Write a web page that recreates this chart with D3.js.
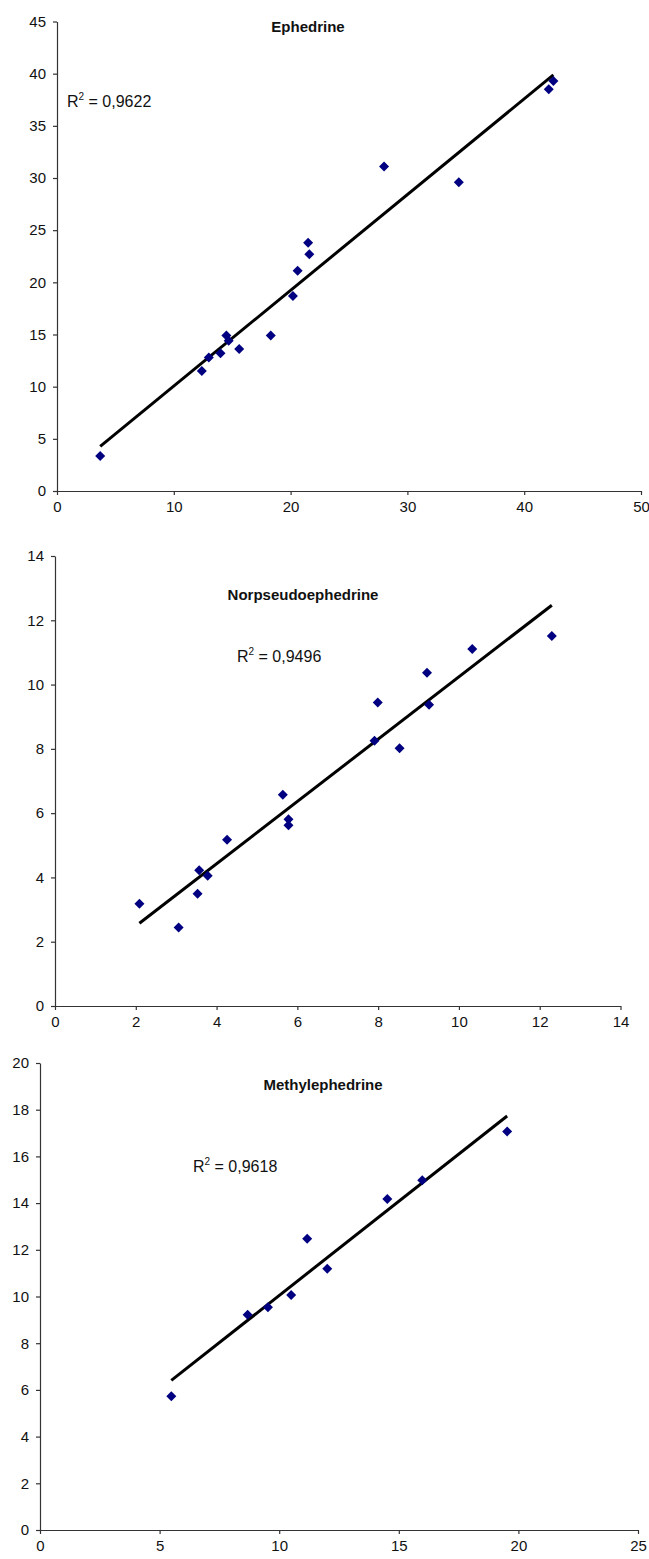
<!DOCTYPE html>
<meta charset="utf-8">
<style>
    body { margin: 0; background: #fff; }
    text { font-family: "Liberation Sans", Arial, sans-serif; fill: #111; }
    .axis path, .axis line { stroke: #333; stroke-width: 1.2px; }
    .axis text { font-size: 15px; }
    .title { font-size: 15px; font-weight: bold; }
    .r2 { font-size: 16px; }
    .trend { stroke: #000; stroke-width: 3px; fill: none; }
    .pt { fill: #000080; }
</style>
<body>
<script src="https://d3js.org/d3.v7.min.js"></script>
<script>
    var width = 649,
        height = 1559;

    // Ephedrine
    var ephedrineX = [3.7, 12.4, 13.0, 14.0, 14.5, 14.7, 15.6, 18.3, 20.2, 20.6, 21.5, 21.6, 28.0, 34.4, 42.1, 42.5];
    var ephedrineY = [3.35, 11.5, 12.8, 13.2, 14.9, 14.4, 13.6, 14.9, 18.7, 21.1, 23.8, 22.7, 31.1, 29.6, 38.5, 39.3];

    // Norpseudoephedrine
    var norX = [2.09, 3.06, 3.53, 3.57, 3.78, 4.26, 5.64, 5.78, 5.78, 7.91, 7.99, 8.53, 9.21, 9.26, 10.33, 12.30];
    var norY = [3.18, 2.44, 3.49, 4.22, 4.05, 5.17, 6.57, 5.81, 5.62, 8.25, 9.44, 8.02, 10.37, 9.37, 11.11, 11.51];

    // Methylephedrine
    var methX = [5.49, 8.68, 9.53, 10.50, 11.17, 12.01, 14.52, 15.98, 19.53];
    var methY = [5.73, 9.22, 9.54, 10.06, 12.47, 11.19, 14.18, 14.98, 17.07];

    var titles = ["Ephedrine", "Norpseudoephedrine", "Methylephedrine"];
    var r2Values = ["0,9622", "0,9496", "0,9618"];

    var xTicks1 = [0, 10, 20, 30, 40, 50], yTicks1 = [0, 5, 10, 15, 20, 25, 30, 35, 40, 45];
    var xTicks2 = [0, 2, 4, 6, 8, 10, 12, 14], yTicks2 = [0, 2, 4, 6, 8, 10, 12, 14];
    var xTicks3 = [0, 5, 10, 15, 20, 25], yTicks3 = [0, 2, 4, 6, 8, 10, 12, 14, 16, 18, 20];

    // layout of each panel (pixels)
    var panels = [
        { xs: ephedrineX, ys: ephedrineY, xMax: 50, yMax: 45, xt: xTicks1, yt: yTicks1,
          left: 57, right: 641, top: 21.5, bottom: 491,
          titleX: 308, titleY: 32, r2X: 67, r2Y: 107 },
        { xs: norX, ys: norY, xMax: 14, yMax: 14, xt: xTicks2, yt: yTicks2,
          left: 55, right: 620.5, top: 556, bottom: 1006,
          titleX: 303, titleY: 600, r2X: 237, r2Y: 662 },
        { xs: methX, ys: methY, xMax: 25, yMax: 20, xt: xTicks3, yt: yTicks3,
          left: 40, right: 638, top: 1063, bottom: 1530,
          titleX: 323, titleY: 1090, r2X: 193, r2Y: 1172 }
    ];

    var svg = d3.select("body").append("svg")
        .attr("width", width)
        .attr("height", height);

    var diamond = d3.symbol().type(d3.symbolSquare).size(50);

    panels.forEach(function (p, i) {
        var x = d3.scaleLinear().domain([0, p.xMax]).range([p.left, p.right]);
        var y = d3.scaleLinear().domain([0, p.yMax]).range([p.bottom, p.top]);
        var g = svg.append("g");

        g.append("g")
            .attr("class", "axis")
            .attr("transform", "translate(0," + p.bottom + ")")
            .call(d3.axisBottom(x).tickValues(p.xt).tickSize(4).tickSizeOuter(0).tickPadding(6));

        g.append("g")
            .attr("class", "axis")
            .attr("transform", "translate(" + p.left + ",0)")
            .call(d3.axisLeft(y).tickValues(p.yt).tickSize(4).tickSizeOuter(0).tickPadding(7));

        // least squares trend line
        var mx = d3.mean(p.xs), my = d3.mean(p.ys);
        var sxy = d3.sum(p.xs, function (v, k) { return (v - mx) * (p.ys[k] - my); });
        var sxx = d3.sum(p.xs, function (v) { return (v - mx) * (v - mx); });
        var slope = sxy / sxx, icpt = my - slope * mx;
        var ext = d3.extent(p.xs);

        g.append("line")
            .attr("class", "trend")
            .attr("x1", x(ext[0])).attr("y1", y(icpt + slope * ext[0]))
            .attr("x2", x(ext[1])).attr("y2", y(icpt + slope * ext[1]));

        g.selectAll(".pt")
            .data(p.xs.map(function (v, k) { return [v, p.ys[k]]; }))
            .enter().append("path")
            .attr("class", "pt")
            .attr("d", diamond)
            .attr("transform", function (d) {
                return "translate(" + x(d[0]) + "," + y(d[1]) + ") rotate(45)";
            });

        g.append("text")
            .attr("class", "title")
            .attr("x", p.titleX).attr("y", p.titleY)
            .attr("text-anchor", "middle")
            .text(titles[i]);

        var r2 = g.append("text")
            .attr("class", "r2")
            .attr("x", p.r2X).attr("y", p.r2Y);
        r2.append("tspan").text("R");
        r2.append("tspan").attr("dy", -7).style("font-size", "10px").text("2");
        r2.append("tspan").attr("dy", 7).text(" = " + r2Values[i]);
    });
</script>
</body>
